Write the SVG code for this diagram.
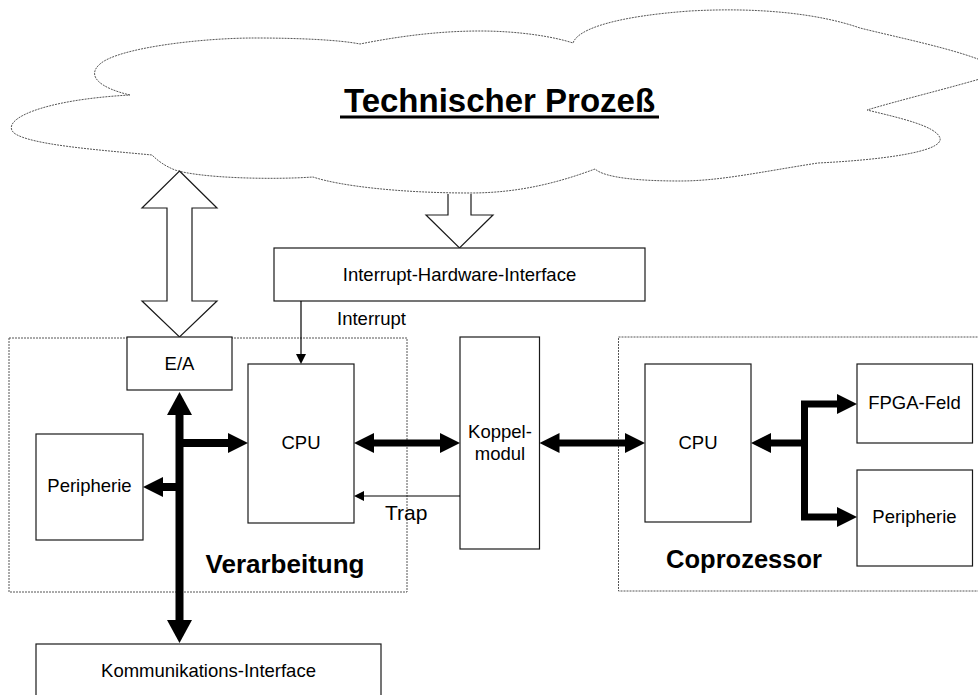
<svg xmlns="http://www.w3.org/2000/svg" width="978" height="695" viewBox="0 0 978 695">
<style>
.box{fill:#fff;stroke:#1a1a1a;stroke-width:1.2}
.grp{fill:none;stroke:#555;stroke-width:1;stroke-dasharray:2 1}
.t{font-family:"Liberation Sans",Arial,sans-serif;font-size:18.5px;fill:#000;text-anchor:middle}
.b{font-family:"Liberation Sans",Arial,sans-serif;font-weight:bold;fill:#000}
.bus{fill:none;stroke:#000;stroke-width:8;stroke-linejoin:miter}
.bus7{fill:none;stroke:#000;stroke-width:7;stroke-linejoin:miter}
.thin{fill:none;stroke:#000;stroke-width:1.2}
.hollow{fill:#fff;stroke:#1a1a1a;stroke-width:1.2}
</style>
<defs>
<path id="ah" d="M0,0 L-20,-10 L-20,10 Z" fill="#000"/>
<path id="ahB" d="M0,0 L-23,-12.5 L-23,12.5 Z" fill="#000"/>
<path id="ahs" d="M0,0 L-10,-5 L-10,5 Z" fill="#000"/>
</defs>

<g id="cloud">
<path class="grp" d="M130,95 C100,88 86,76 100,64 C118,48 200,38 255,38 C300,38 340,40 360,44 C400,36 440,31 480,31 C520,31 555,37 573,43 C578,28 620,16 690,11 C760,7 820,14 860,28 C900,38 960,50 990,64 L990,76 C950,88 900,100 867,110 C900,118 936,126 940,138 C944,152 880,160 818,163 C760,172 720,181 680,181 C640,181 605,178 595,169 C560,182 520,193 470,193 C400,193 340,186 313,177 C270,180 200,178 175,170 C165,166 158,161 152,155 C100,150 30,145 14,133 C0,120 40,100 130,95 Z"/>
<text class="b" x="499.5" y="112" font-size="33" text-anchor="middle">Technischer Prozeß</text>
<rect x="340" y="115.5" width="319" height="3" fill="#000"/>
</g>

<g id="io-arrow">
<polygon class="hollow" points="179.5,171 217,208 192,208 192,301 217,301 179.5,337 142,301 167,301 167,208 142,208"/>
</g>
<g id="irq-arrow">
<path class="hollow" d="M448,194 L448,215 L426,215 L459.5,248 L493,215 L471,215 L471,194"/>
</g>

<g id="verarbeitung">
<rect class="grp" x="9" y="338" width="398" height="254"/>
<text class="b" x="285" y="573" font-size="26" text-anchor="middle">Verarbeitung</text>
</g>
<g id="coprozessor">
<rect class="grp" x="618.5" y="337" width="370" height="254"/>
<text class="b" x="744" y="568" font-size="25.5" text-anchor="middle">Coprozessor</text>
</g>

<g id="interrupt-hw">
<rect class="box" x="274" y="248" width="371" height="53"/>
<text class="t" x="459.5" y="281">Interrupt-Hardware-Interface</text>
</g>
<g id="ea">
<rect class="box" x="127" y="337" width="105" height="53"/>
<text class="t" x="179.5" y="370">E/A</text>
</g>
<g id="cpu1">
<rect class="box" x="248" y="364" width="106" height="159"/>
<text class="t" x="301" y="449">CPU</text>
</g>
<g id="peripherie1">
<rect class="box" x="36" y="434" width="107" height="106"/>
<text class="t" x="89.5" y="492">Peripherie</text>
</g>
<g id="koppelmodul">
<rect class="box" x="460" y="337" width="79.5" height="212"/>
<text class="t" x="500" y="438">Koppel-</text>
<text class="t" x="500" y="460">modul</text>
</g>
<g id="cpu2">
<rect class="box" x="645" y="364" width="106" height="158"/>
<text class="t" x="698" y="449">CPU</text>
</g>
<g id="fpga">
<rect class="box" x="857" y="364" width="115.5" height="79"/>
<text class="t" x="914.5" y="409">FPGA-Feld</text>
</g>
<g id="peripherie2">
<rect class="box" x="857" y="470" width="115.5" height="96"/>
<text class="t" x="914.5" y="523">Peripherie</text>
</g>
<g id="komm">
<rect class="box" x="36" y="644" width="345" height="60"/>
<text class="t" x="208.5" y="677">Kommunikations-Interface</text>
</g>

<g id="connectors">
<line class="thin" x1="301" y1="301" x2="301" y2="356"/>
<use href="#ahs" transform="translate(301,364) rotate(90)"/>
<text class="t" x="371.5" y="325">Interrupt</text>
<line class="thin" x1="460" y1="496" x2="362" y2="496"/>
<use href="#ahs" transform="translate(354,496) rotate(180)"/>
<text class="t" x="385" y="520" style="font-size:21px;text-anchor:start">Trap</text>
<line class="bus" x1="179.5" y1="412" x2="179.5" y2="623"/>
<use href="#ahB" transform="translate(179.5,392) rotate(-90)"/>
<use href="#ahB" transform="translate(179.5,643) rotate(90)"/>
<line class="bus" x1="179.5" y1="443" x2="230" y2="443"/>
<use href="#ah" transform="translate(248,443)"/>
<line class="bus" x1="179.5" y1="487" x2="162" y2="487"/>
<use href="#ah" transform="translate(143,487) rotate(180)"/>
<line class="bus7" x1="372" y1="443" x2="442" y2="443"/>
<use href="#ah" transform="translate(354,443) rotate(180)"/>
<use href="#ah" transform="translate(460,443)"/>
<line class="bus7" x1="557" y1="443" x2="627" y2="443"/>
<use href="#ah" transform="translate(539.5,443) rotate(180)"/>
<use href="#ah" transform="translate(645,443)"/>
<line class="bus7" x1="769" y1="443" x2="804.5" y2="443"/>
<use href="#ah" transform="translate(751,443) rotate(180)"/>
<path class="bus7" d="M839,404 L804.5,404 L804.5,517 L839,517"/>
<use href="#ah" transform="translate(857,404)"/>
<use href="#ah" transform="translate(857,517)"/>
</g>
</svg>
